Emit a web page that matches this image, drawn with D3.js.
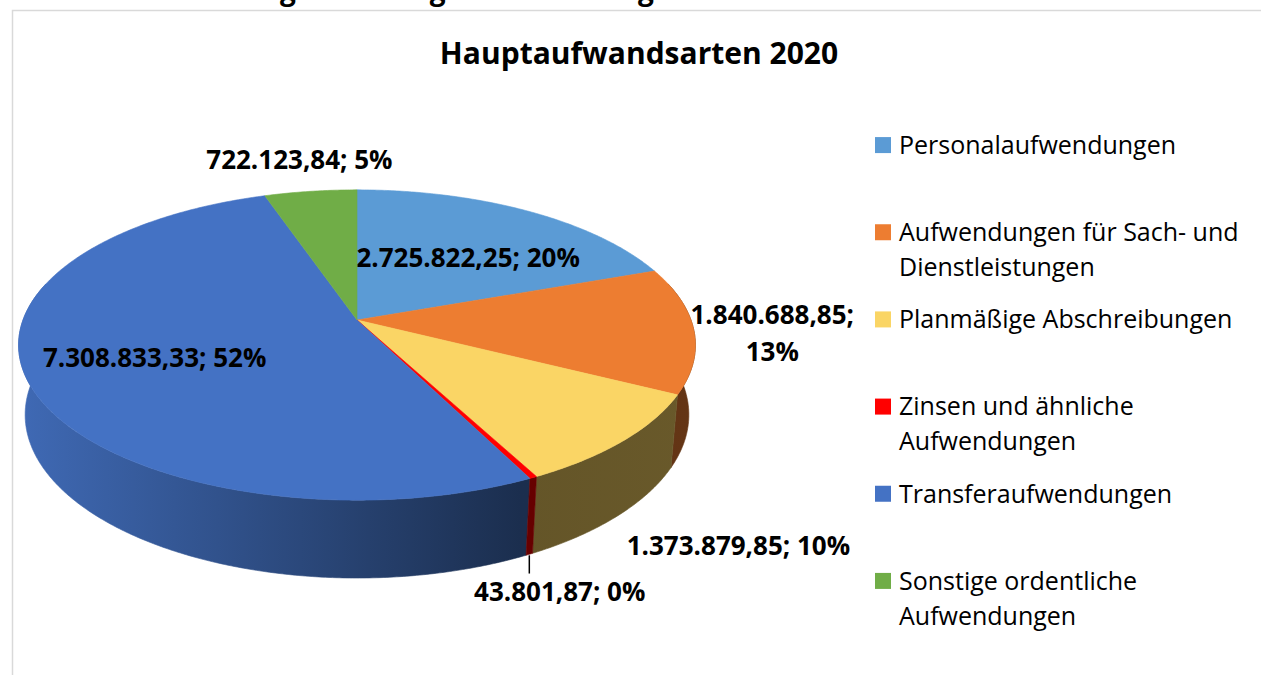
<!DOCTYPE html>
<html><head><meta charset="utf-8">
<script src="https://cdn.jsdelivr.net/npm/d3@7"></script>
<style>body{margin:0;background:#fff}svg{display:block}</style>
</head><body>
<svg id="chart" width="1261" height="675"></svg>
<script>
// ---------- data ----------
const categories = [
  "Personalaufwendungen",
  "Aufwendungen für Sach- und Dienstleistungen",
  "Planmäßige Abschreibungen",
  "Zinsen und ähnliche Aufwendungen",
  "Transferaufwendungen",
  "Sonstige ordentliche Aufwendungen"
];
const values = [2725822.25, 1840688.85, 1373879.85, 43801.87, 7308833.33, 722123.84];
const percentLabels = ["20%", "13%", "10%", "0%", "52%", "5%"];
const colors = ["#5B9BD5", "#ED7D31", "#FAD565", "#FF0000", "#4472C4", "#70AD47"];
const chartTitle = "Hauptaufwandsarten 2020";
const pageHeading = "Aufwendungen laut Ergebnisrechnung nach Sachkonten";

// label placement (radial factor, depth factor, wrap after ";")
const labelRho   = [0.63, 1.23, 1.38, 1.15, 0.63, 1.29];
const labelDepth = [0.15, 0, 0.65, 1.1, 0, 0];
const labelWrap  = [false, true, false, false, false, false];
const labelLeader = [false, false, false, true, false, false];

// ---------- setup ----------
const svg = d3.select("#chart");
const W = 1261, H = 675;
const de = d3.formatLocale({decimal: ",", thousands: ".", grouping: [3], currency: ["", "€"]});
const fmt = de.format(",.2f");

// page heading (cut off at top, as in the reference)
svg.append("text").attr("x", 118).attr("y", 0)
  .attr("font-family", "Open Sans").attr("font-weight", 700).attr("font-size", 28)
  .attr("fill", "#000").text(pageHeading);

// frame
svg.append("path").attr("d", `M12.5,${H + 5} L12.5,10.5 L${W + 5},10.5`)
  .attr("fill", "none").attr("stroke", "#D9D9D9").attr("stroke-width", 1.5);

// title
svg.append("text").attr("x", 639).attr("y", 64).attr("text-anchor", "middle")
  .attr("font-family", "Open Sans").attr("font-weight", 700).attr("font-size", 30)
  .attr("fill", "#000").text(chartTitle);

// ---------- 3D projection ----------
const cx = 357, cy = 320, F = 334, rr = 0.1808, phi = 26.9 * Math.PI / 180, thick = 0.236;
function proj(theta, rho, h) {
  const x3 = rho * Math.sin(theta), z3 = rho * Math.cos(theta);
  const yc = z3 * Math.sin(phi) + h * Math.cos(phi);
  const dn = 1 + rr * (z3 * Math.cos(phi) - h * Math.sin(phi));
  return [cx + F * x3 / dn, cy - F * yc / dn];
}
function arcPts(a0, a1, h) {
  const n = Math.max(2, Math.ceil(Math.abs(a1 - a0) / (Math.PI / 360)));
  return d3.range(n + 1).map(i => proj(a0 + (a1 - a0) * i / n, 1, h));
}

const pie = d3.pie().sort(null).value(d => d)(values);
const line = d3.line();

// gradients for sides
const defs = svg.append("defs");
function shade(c, k) { const r = d3.rgb(c); return d3.rgb(r.r * k, r.g * k, r.b * k).formatHex(); }
colors.forEach((c, i) => {
  const g = defs.append("linearGradient").attr("id", "side" + i)
    .attr("gradientUnits", "userSpaceOnUse")
    .attr("x1", cx - F).attr("x2", cx + F).attr("y1", 0).attr("y2", 0);
  [[0, 0.92], [0.745, 0.4], [1, 0.42]].forEach(([o, k]) =>
    g.append("stop").attr("offset", o).attr("stop-color", shade(c, k)));
});

// side walls (visible front range)
const vis0 = Math.PI / 2 - 0.25, vis1 = 3 * Math.PI / 2 + 0.25;
const walls = pie.map((p, i) => {
  const a0 = Math.max(p.startAngle, vis0), a1 = Math.min(p.endAngle, vis1);
  return {i, a0, a1, key: Math.cos((a0 + a1) / 2)};
}).filter(w => w.a1 > w.a0).sort((a, b) => b.key - a.key);

svg.append("g").selectAll("path").data(walls).join("path")
  .attr("d", w => line(arcPts(w.a0, w.a1, 0).concat(arcPts(w.a1, w.a0, -thick))) + "Z")
  .attr("fill", w => `url(#side${w.i})`)
  .attr("stroke", w => `url(#side${w.i})`).attr("stroke-width", 0.6);

// top faces
svg.append("g").selectAll("path").data(pie).join("path")
  .attr("d", p => line([[cx, cy]].concat(arcPts(p.startAngle, p.endAngle, 0))) + "Z")
  .attr("fill", (p, i) => colors[i])
  .attr("stroke", (p, i) => colors[i]).attr("stroke-width", 0.6).attr("stroke-linejoin", "round");

// ---------- data labels ----------
const lg = svg.append("g").attr("font-family", "Open Sans").attr("font-weight", 700)
  .attr("font-size", 26).attr("fill", "#000").attr("text-anchor", "middle");
pie.forEach((p, i) => {
  const mid = (p.startAngle + p.endAngle) / 2;
  const [x, y] = proj(mid, labelRho[i], -thick * labelDepth[i]);
  const txt = fmt(values[i]) + ";";
  const t = lg.append("text").attr("x", x).attr("y", y);
  if (labelWrap[i]) {
    t.append("tspan").attr("x", x).attr("dy", "-0.3em").text(txt);
    t.append("tspan").attr("x", x).attr("dy", 37).text(percentLabels[i]);
  } else {
    t.attr("dy", "0.35em").text(txt + " " + percentLabels[i]);
  }
  if (labelLeader[i]) {
    const [ex, ey] = proj(mid, 1, -thick);
    svg.append("line").attr("x1", ex).attr("y1", ey + 1).attr("x2", ex).attr("y2", y - 18)
      .attr("stroke", "#000").attr("stroke-width", 1.5);
  }
});

// ---------- legend ----------
const ly = d3.scaleBand().domain(d3.range(categories.length)).range([101.5, 624.5]);
const leg = svg.append("g").attr("font-family", "Open Sans").attr("font-size", 25).attr("fill", "#000");
categories.forEach((c, i) => {
  const yc = ly(i) + ly.bandwidth() / 2;
  leg.append("rect").attr("x", 875).attr("y", yc - 8).attr("width", 16).attr("height", 16).attr("fill", colors[i]);
  const t = leg.append("text").attr("x", 899).attr("y", yc).attr("dy", "0.35em");
  const words = c.split(" ");
  let cur = [];
  let ts = t.append("tspan").attr("x", 899);
  words.forEach(w => {
    cur.push(w);
    ts.text(cur.join(" "));
    if (ts.node().getComputedTextLength() > 358 && cur.length > 1) {
      cur.pop(); ts.text(cur.join(" "));
      cur = [w];
      ts = t.append("tspan").attr("x", 899).attr("dy", 35).text(w);
    }
  });
});
</script>
</body></html>
